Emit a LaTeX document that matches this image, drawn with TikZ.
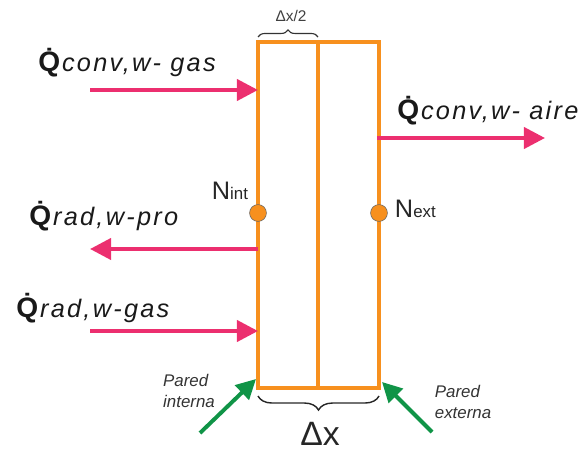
\documentclass[tikz,border=0pt]{standalone}
\usepackage{fontspec}
\setmainfont{Liberation Sans}
\newfontfamily\fluxfont[LetterSpace=9]{Liberation Sans}
\usetikzlibrary{decorations.pathreplacing, arrows.meta}
\definecolor{wallorange}{HTML}{F7901E}
\definecolor{heatpink}{HTML}{EC2F6F}
\definecolor{wallgreen}{HTML}{109447}
\newcommand{\qdot}{{\rmfamily\fontsize{20}{22}\selectfont\textbf{\.{Q}}}}
\tikzset{
  wall/.style={draw=wallorange, line width=2.8pt},
  heat/.style={draw=heatpink, line width=2.8pt, -{Triangle[length=15pt,width=15pt]}},
  marker/.style={-{Triangle[length=14pt,width=14pt]}, draw=wallgreen, line width=2.8pt},
  flux/.style={anchor=base west, font=\fluxfont\fontsize{18}{20}\selectfont, inner sep=0pt, text=black!90},
  nodept/.style={circle, fill=wallorange, draw=black!60, line width=0.4pt, minimum size=12pt, inner sep=0pt},
  tag/.style={font=\fontsize{12}{15.5}\selectfont\itshape, align=left, text=black!80},
}
\begin{document}
\begin{tikzpicture}[x=0.025cm, y=-0.025cm]
	\useasboundingbox (0,0) rectangle (582,451);

	% wall
	\coordinate (tl) at (258,42);
	\coordinate (br) at (379,388);
	\coordinate (tm) at (318,42);
	\coordinate (bm) at (318,388);
	\draw[wall] (tl) rectangle (br);
	\draw[wall] (tm) -- (bm);

	% nodes
	\node[nodept] (nint) at (258,213) {};
	\node[nodept] (next) at (379,213) {};
	\node[anchor=base east, font=\fontsize{18}{20}\selectfont, text=black!85] (nintlbl) at (253,200) {N\fontsize{12}{14}\selectfont int};
	\node[anchor=base west, font=\fontsize{18}{20}\selectfont, text=black!85] (nextlbl) at (390,218) {N\fontsize{12}{14}\selectfont ext};

	% heat flows
	\coordinate (gasin) at (90,90);
	\coordinate (gasw) at (258,90);
	\coordinate (airw) at (377,138);
	\coordinate (airout) at (545,138);
	\coordinate (prow) at (258,249);
	\coordinate (proout) at (90,249);
	\coordinate (radin) at (90,331);
	\coordinate (radw) at (258,331);
	\draw[heat] (gasin) -- (gasw);
	\draw[heat] (airw) -- (airout);
	\draw[heat] (prow) -- (proout);
	\draw[heat] (radin) -- (radw);

	\node[flux] (qgas) at (38,72) {\qdot\textit{conv,w- gas}};
	\node[flux] (qaire) at (397,120) {\qdot\textit{conv,w- aire}};
	\node[flux] (qpro) at (29,225) {\qdot\textit{rad,w-pro}};
	\node[flux] (qrad) at (16,317) {\qdot\textit{rad,w-gas}};

	% wall sides
	\coordinate (inttail) at (200,433);
	\coordinate (inthead) at (256,379);
	\coordinate (exttail) at (432,432);
	\coordinate (exthead) at (382,382);
	\draw[marker] (inttail) -- (inthead);
	\draw[marker] (exttail) -- (exthead);
	\node[tag] (pint) at (189,391) {Pared\\interna};
	\node[tag] (pext) at (463,402) {Pared\\externa};

	% thickness
	\draw[decorate, decoration={brace, amplitude=5pt}, black!80, line width=0.8pt] (258,37) -- (318,37);
	\node[font=\fontsize{11}{12}\selectfont, text=black!75] (half) at (291,16) {Δx/2};
	\draw[decorate, decoration={brace, mirror, amplitude=10pt}, black!85, line width=1pt] (258,396) -- (379,396);
	\node[font=\fontsize{24}{26}\selectfont, text=black!85] (full) at (320,434) {Δx};
\end{tikzpicture}
\end{document}
